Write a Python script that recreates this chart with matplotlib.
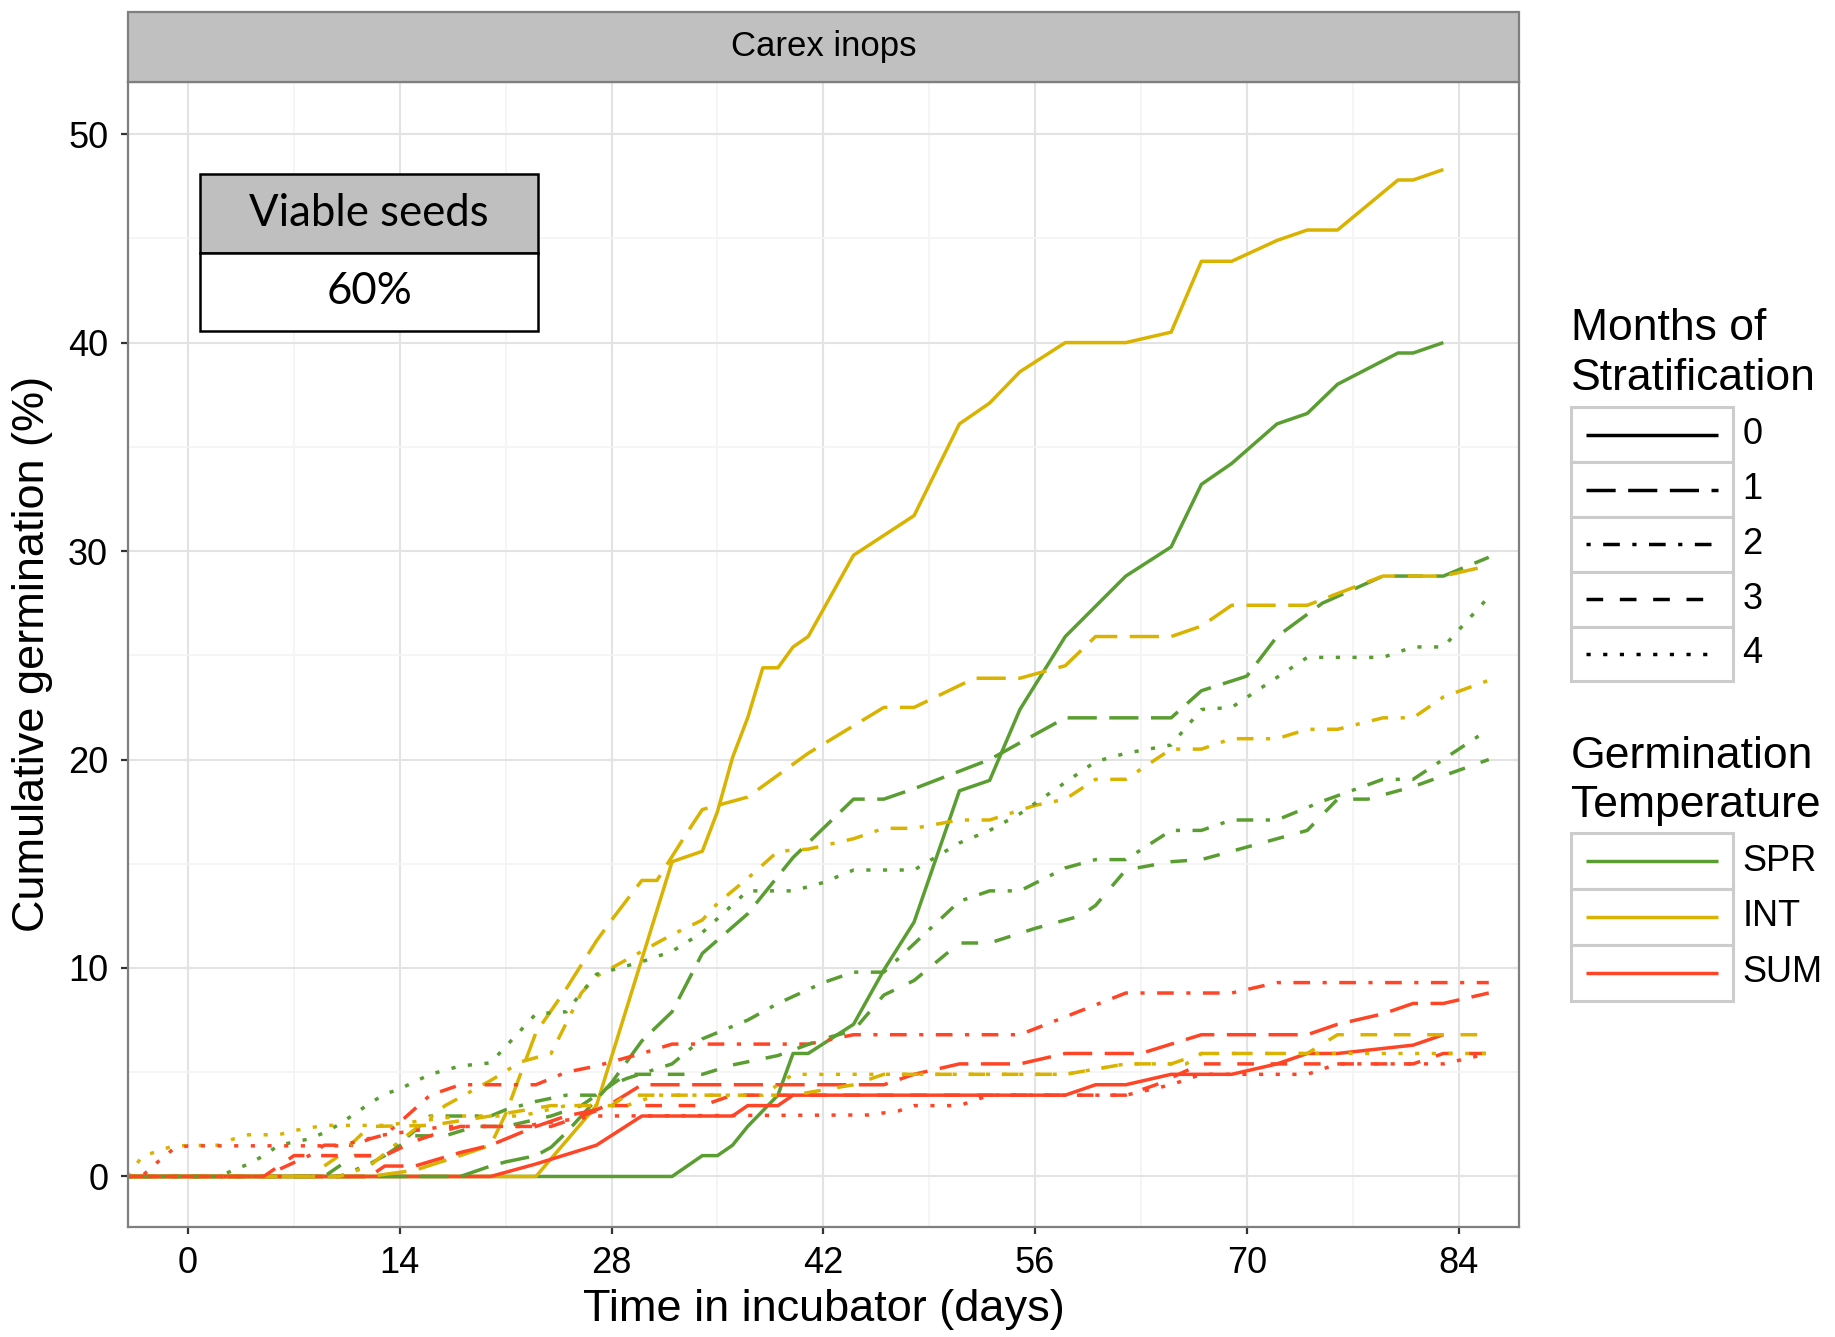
import matplotlib
matplotlib.use("Agg")
import matplotlib.pyplot as plt
from matplotlib.patches import Rectangle
from matplotlib.ticker import MultipleLocator

plt.rcParams['font.family'] = ['Liberation Sans', 'DejaVu Sans']
plt.rcParams['lines.scale_dashes'] = False

# ---- data (days in incubator, cumulative germination %) ----
temps = ["SPR", "INT", "SUM"]
months = ["0", "1", "2", "3", "4"]
x_ticks = [0, 14, 28, 42, 56, 70, 84]
y_ticks = [0, 10, 20, 30, 40, 50]

spr0_day = [-4, 32, 34, 35, 36, 37, 39, 40, 41, 44, 46, 48, 51, 53, 55, 58, 62, 65, 67, 69, 72, 74, 76, 80, 81, 83]
spr0_pct = [0, 0, 1.0, 1.0, 1.5, 2.4, 3.9, 5.9, 5.9, 7.3, 9.9, 12.2, 18.5, 19.0, 22.4, 25.9, 28.8, 30.2, 33.2, 34.2, 36.1, 36.6, 38.0, 39.5, 39.5, 40.0]

int0_day = [-4, 23, 27, 32, 34, 35, 36, 37, 38, 39, 40, 41, 44, 48, 51, 53, 55, 58, 62, 65, 67, 69, 72, 74, 76, 80, 81, 83]
int0_pct = [0, 0, 3.4, 15.1, 15.6, 17.5, 20.1, 22.0, 24.4, 24.4, 25.4, 25.9, 29.8, 31.7, 36.1, 37.1, 38.6, 40.0, 40.0, 40.5, 43.9, 43.9, 44.9, 45.4, 45.4, 47.8, 47.8, 48.3]

sum0_day = [-4, 20, 23, 27, 30, 36, 37, 39, 40, 58, 60, 62, 65, 69, 72, 74, 76, 81, 83]
sum0_pct = [0, 0, 0.6, 1.5, 2.9, 2.9, 3.4, 3.4, 3.9, 3.9, 4.4, 4.4, 4.9, 4.9, 5.4, 5.9, 5.9, 6.3, 6.8]

spr1_day = [-4, 18, 20, 21, 23, 24, 25, 27, 28, 30, 32, 34, 37, 40, 44, 46, 48, 53, 58, 65, 67, 70, 72, 75, 79, 83, 86]
spr1_pct = [0, 0, 0.5, 0.7, 1.0, 1.4, 2.1, 3.7, 4.5, 6.5, 7.9, 10.7, 12.6, 15.3, 18.1, 18.1, 18.6, 20.0, 22.0, 22.0, 23.3, 24.0, 25.9, 27.5, 28.8, 28.8, 29.7]

int1_day = [-4, 12, 15, 18, 20, 21, 23, 25, 27, 28, 30, 31, 33, 34, 37, 41, 46, 48, 52, 55, 58, 60, 65, 67, 69, 74, 79, 83, 86]
int1_pct = [0, 0, 0.3, 1.0, 1.5, 3.0, 6.9, 9.0, 11.3, 12.3, 14.2, 14.2, 16.5, 17.6, 18.2, 20.3, 22.5, 22.5, 23.9, 23.9, 24.5, 25.9, 25.9, 26.4, 27.4, 27.4, 28.8, 28.8, 29.3]

sum1_day = [-4, 12, 13, 15, 18, 20, 21, 23, 25, 27, 28, 30, 46, 48, 51, 55, 58, 63, 67, 74, 76, 79, 81, 83, 86]
sum1_pct = [0, 0, 0.5, 0.5, 1.15, 1.5, 1.8, 2.4, 2.9, 3.2, 3.5, 4.4, 4.4, 4.9, 5.4, 5.4, 5.9, 5.9, 6.8, 6.8, 7.3, 7.8, 8.3, 8.3, 8.8]

spr2_day = [-4, 10, 12, 13, 14, 15, 16, 20, 21, 23, 25, 27, 28, 29, 32, 34, 37, 39, 42, 44, 46, 51, 53, 55, 58, 60, 62, 65, 67, 69, 72, 75, 79, 81, 86]
spr2_pct = [0, 0, 0.6, 1.0, 1.6, 2.2, 2.9, 2.9, 3.2, 3.6, 3.9, 3.9, 4.4, 4.7, 5.4, 6.6, 7.5, 8.3, 9.3, 9.8, 9.8, 13.2, 13.7, 13.7, 14.8, 15.2, 15.2, 16.6, 16.6, 17.1, 17.1, 18.0, 19.05, 19.05, 21.45]

int2_day = [-4, 10, 12, 14, 17, 20, 22, 24, 26, 27, 30, 32, 34, 35, 37, 39, 41, 44, 46, 48, 51, 53, 56, 58, 60, 62, 65, 67, 69, 72, 74, 76, 79, 81, 83, 86]
int2_pct = [0, 0, 0.5, 1.7, 3.4, 4.6, 5.5, 5.9, 8.8, 9.6, 10.8, 11.6, 12.3, 13.1, 14.3, 15.6, 15.7, 16.2, 16.7, 16.7, 17.1, 17.1, 17.8, 18.1, 19.05, 19.05, 20.5, 20.5, 21.0, 21.0, 21.45, 21.45, 22.0, 22.0, 23.0, 23.8]

sum2_day = [-4, 5, 8, 9, 11, 12, 13, 14, 16, 18, 23, 25, 27, 28, 30, 32, 41, 44, 55, 62, 69, 72, 86]
sum2_pct = [0, 0, 1.0, 1.5, 1.5, 1.8, 2.0, 2.6, 3.9, 4.4, 4.4, 5.0, 5.3, 5.5, 5.9, 6.35, 6.35, 6.8, 6.8, 8.8, 8.8, 9.3, 9.3]

spr3_day = [-4, 9, 10, 11, 13, 15, 17, 19, 21, 24, 26, 28, 29, 34, 36, 39, 42, 44, 46, 48, 51, 53, 56, 59, 60, 62, 65, 67, 70, 72, 74, 76, 78, 81, 86]
spr3_pct = [0, 0, 0.5, 1.0, 1.0, 1.95, 1.95, 2.4, 2.4, 2.9, 3.4, 4.4, 4.9, 4.9, 5.35, 5.8, 6.6, 7.0, 8.7, 9.4, 11.2, 11.2, 11.9, 12.5, 13.0, 14.7, 15.1, 15.2, 15.8, 16.2, 16.6, 18.1, 18.1, 18.7, 20.0]

int3_day = [-4, 8, 10, 12, 16, 20, 24, 28, 29, 40, 44, 46, 58, 62, 65, 67, 74, 76, 86]
int3_pct = [0, 0, 1.0, 2.4, 2.45, 2.9, 3.4, 3.4, 3.9, 3.9, 4.4, 4.9, 4.9, 5.4, 5.4, 5.9, 5.9, 6.8, 6.8]

sum3_day = [-4, 5, 7, 13, 15, 17, 18, 24, 26, 28, 34, 36, 62, 64, 67, 81, 83, 86]
sum3_pct = [0, 0, 1.0, 1.0, 1.7, 2.2, 2.4, 2.4, 2.9, 3.4, 3.4, 3.9, 3.9, 4.4, 5.4, 5.4, 5.9, 5.9]

spr4_day = [-4, 2, 3, 4, 5, 6, 8, 9, 10, 11, 12, 13, 14, 16, 17, 18, 20, 23, 25, 27, 28, 30, 32, 34, 37, 40, 42, 44, 48, 51, 53, 55, 57, 60, 62, 65, 67, 69, 74, 79, 81, 83, 86]
spr4_pct = [0, 0, 0.3, 0.6, 1.0, 1.5, 1.8, 2.1, 2.5, 3.0, 3.5, 3.95, 4.2, 4.9, 5.1, 5.3, 5.45, 7.8, 7.9, 9.7, 9.9, 10.3, 10.8, 11.7, 13.7, 13.7, 14.1, 14.7, 14.7, 16.0, 16.6, 17.4, 18.4, 19.9, 20.3, 20.7, 22.4, 22.5, 24.9, 24.9, 25.4, 25.4, 27.8]

int4_day = [-4, -3, -2, -1, 2, 3, 4, 6, 7, 9, 13, 18, 22, 25, 29, 31, 38, 40, 58, 62, 66, 67, 86]
int4_pct = [0, 1.0, 1.2, 1.47, 1.5, 1.8, 2.0, 2.0, 2.2, 2.45, 2.45, 2.9, 2.9, 3.4, 3.4, 3.9, 3.9, 4.9, 4.9, 5.4, 5.4, 5.9, 5.9]

sum4_day = [-4, -3, -2, -1, 0, 10, 13, 17, 22, 27, 45, 47, 48, 51, 53, 62, 65, 67, 74, 76, 83, 86]
sum4_pct = [0, 0.05, 0.7, 1.3, 1.47, 1.47, 2.0, 2.4, 2.4, 2.9, 2.95, 3.15, 3.4, 3.4, 3.9, 3.9, 4.4, 4.9, 4.9, 5.4, 5.4, 5.9]

series = [
    ("SPR", "0", spr0_day, spr0_pct), ("INT", "0", int0_day, int0_pct), ("SUM", "0", sum0_day, sum0_pct),
    ("SPR", "1", spr1_day, spr1_pct), ("INT", "1", int1_day, int1_pct), ("SUM", "1", sum1_day, sum1_pct),
    ("SPR", "2", spr2_day, spr2_pct), ("INT", "2", int2_day, int2_pct), ("SUM", "2", sum2_day, sum2_pct),
    ("SPR", "3", spr3_day, spr3_pct), ("INT", "3", int3_day, int3_pct), ("SUM", "3", sum3_day, sum3_pct),
    ("SPR", "4", spr4_day, spr4_pct), ("INT", "4", int4_day, int4_pct), ("SUM", "4", sum4_day, sum4_pct),
]

# ---- styles ----
temp_colors = {"SPR": "#5a9e32", "INT": "#d9b300", "SUM": "#ff4526"}
u = 3.0  # dash unit in points
month_dashes = {"0": None, "1": (7*u, 3*u), "2": (1*u, 3*u, 4*u, 3*u),
                "3": (4*u, 4*u), "4": (1*u, 3*u)}
lw = 2.5

W, H = 1835, 1337
fig = plt.figure(figsize=(W / 100, H / 100), dpi=100)
px_left, px_right, px_top, px_bottom = 127.6, 1519, 82, 1226.5
ax = fig.add_axes([px_left / W, 1 - px_bottom / H, (px_right - px_left) / W, (px_bottom - px_top) / H])

for temp, month, d, p in series:
    line, = ax.plot(d, p, color=temp_colors[temp], lw=lw, solid_capstyle='butt',
                    dash_capstyle='butt', solid_joinstyle='round')
    if month_dashes[month] is not None:
        line.set_dashes(month_dashes[month])

ax.set_xlim(-4, 88)
ax.set_ylim(-2.4, 52.5)
ax.set_xticks(x_ticks)
ax.set_yticks(y_ticks)
ax.xaxis.set_minor_locator(MultipleLocator(7))
ax.yaxis.set_minor_locator(MultipleLocator(5))
ax.grid(which='major', color='#e3e3e3', lw=1.5)
ax.grid(which='minor', color='#f4f4f4', lw=1.2)
ax.set_axisbelow(True)
ax.tick_params(which='major', length=5, width=1.6, color='#333333', labelsize=26, pad=9)
ax.tick_params(which='minor', length=0)
for s in ax.spines.values():
    s.set_color('#7f7f7f')
    s.set_linewidth(1.6)

# ---- overlay in pixel coordinates for strip, labels, box and legends ----
ov = fig.add_axes([0, 0, 1, 1])
ov.set_xlim(0, W)
ov.set_ylim(H, 0)
ov.axis('off')
ov.patch.set_alpha(0)

ov.add_patch(Rectangle((px_left, 11.7), px_right - px_left, px_top - 11.7,
                       fc='#c0c0c0', ec='#7f7f7f', lw=1.6))
ov.text((px_left + px_right) / 2, 46.8, "Carex inops", fontsize=25, ha='center', va='center')

ov.text(824, 1310, "Time in incubator (days)", fontsize=32.5, ha='center', va='center')
ov.text(33, 654, "Cumulative germination (%)", fontsize=32.5, ha='center', va='center', rotation=90)

# viable seeds box
bx, bw = 200, 338.3
ov.add_patch(Rectangle((bx, 174), bw, 78.7, fc='#bfbfbf', ec='black', lw=1.8))
ov.add_patch(Rectangle((bx, 252.7), bw, 78, fc='white', ec='black', lw=1.8))
ov.text(bx + bw / 2, 214, "Viable seeds", fontsize=31.5, ha='center', va='center', family=['Lato', 'DejaVu Sans'])
ov.text(bx + bw / 2, 292, "60%", fontsize=31.5, ha='center', va='center', family=['Lato', 'DejaVu Sans'])

# legends
kx, kw = 1570.5, 162.7
lx0, lx1 = 1586, 1718
ov.text(kx, 329, "Months of", fontsize=32, ha='left', va='center')
ov.text(kx, 378, "Stratification", fontsize=32, ha='left', va='center')
row_h = 54.8
for i, m in enumerate(months):
    top = 407.3 + i * row_h
    ov.add_patch(Rectangle((kx, top), kw, row_h, fc='white', ec='#cccccc', lw=2.2))
    cy = top + row_h / 2
    ln, = ov.plot([lx0, lx1], [cy, cy], color='black', lw=lw, solid_capstyle='butt', dash_capstyle='butt')
    if month_dashes[m] is not None:
        ln.set_dashes(month_dashes[m])
    ov.text(1742.6, cy, m, fontsize=26, ha='left', va='center')

ov.text(kx, 756, "Germination", fontsize=32, ha='left', va='center')
ov.text(kx, 806, "Temperature", fontsize=32, ha='left', va='center')
row_h2 = 55.8
for i, t in enumerate(temps):
    top = 833.3 + i * row_h2
    ov.add_patch(Rectangle((kx, top), kw, row_h2, fc='white', ec='#cccccc', lw=2.2))
    cy = top + row_h2 / 2
    ov.plot([lx0, lx1], [cy, cy], color=temp_colors[t], lw=lw, solid_capstyle='butt')
    ov.text(1742.6, cy, t, fontsize=26, ha='left', va='center')

fig.savefig("out.png", dpi=100)
